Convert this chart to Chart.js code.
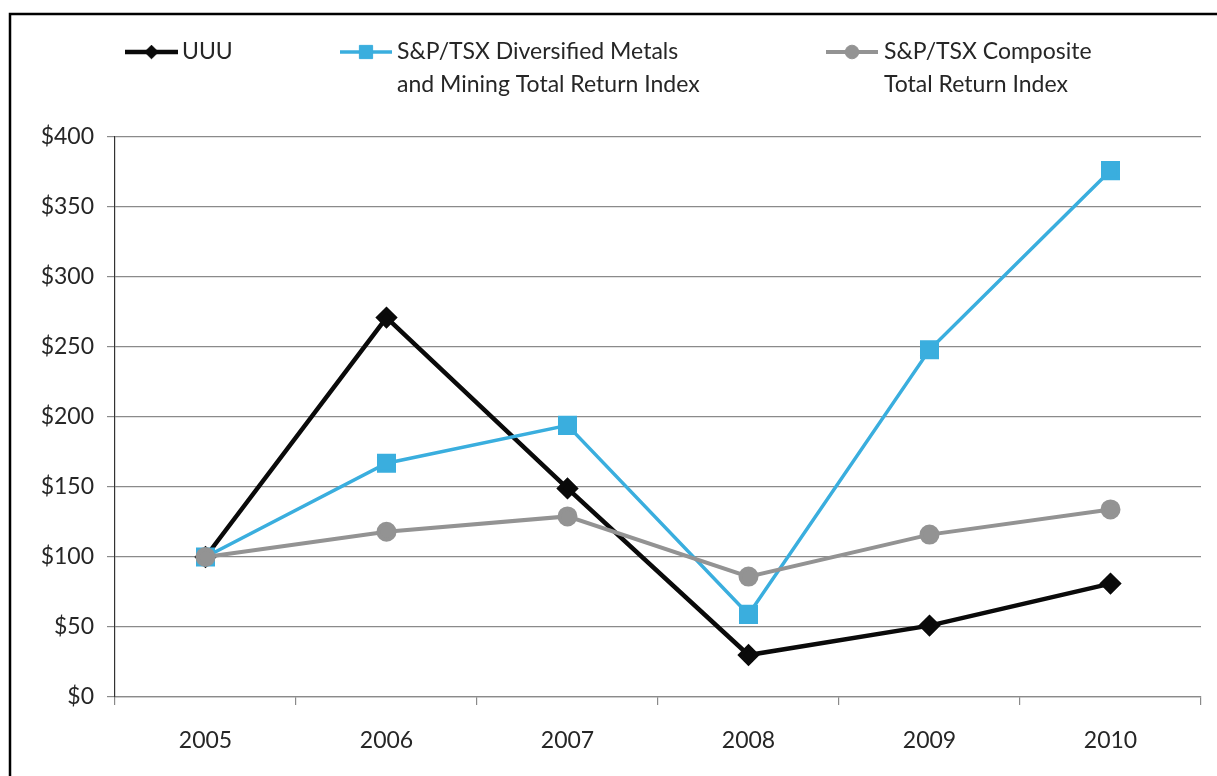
<!DOCTYPE html>
<html>
<head>
<meta charset="utf-8">
<script src="https://cdn.jsdelivr.net/npm/chart.js@4/dist/chart.umd.min.js"></script>
<style>
html,body{margin:0;padding:0;background:#fff;}
#wrap{width:1217px;height:776px;position:relative;}
</style>
</head>
<body>
<div id="wrap"><canvas id="c" width="1217" height="776"></canvas></div>
<script>
const categories = ['2005','2006','2007','2008','2009','2010'];
const uuuValues = [100, 271, 149, 30, 51, 81];
const metalsValues = [100, 167, 194, 59, 248, 376];
const compositeValues = [100, 118, 129, 86, 116, 134];
const yTicks = [0, 50, 100, 150, 200, 250, 300, 350, 400];
const seriesNames = [['UUU'], ['S&P/TSX Diversified Metals', 'and Mining Total Return Index'], ['S&P/TSX Composite', 'Total Return Index']];

const FONT = 'Lato, "Open Sans", sans-serif';

const legendPlugin = {
  id: 'customLegend',
  afterDraw(chart) {
    const ctx = chart.ctx;
    ctx.save();
    // frame
    ctx.strokeStyle = '#000';
    ctx.lineWidth = 2.5;
    ctx.beginPath();
    ctx.moveTo(10, 790);
    ctx.lineTo(10, 14);
    ctx.lineTo(1230, 14);
    ctx.stroke();
    const xs = [{l:125, r:178, t:182}, {l:340, r:392, t:397}, {l:826, r:878, t:884}];
    chart.data.datasets.forEach((ds, i) => {
      const p = xs[i];
      const y = 52;
      ctx.strokeStyle = ds.borderColor;
      ctx.lineWidth = ds.borderWidth;
      ctx.beginPath();
      ctx.moveTo(p.l, y);
      ctx.lineTo(p.r, y);
      ctx.stroke();
      ctx.fillStyle = ds.borderColor;
      ctx.strokeStyle = ds.borderColor;
      ctx.lineWidth = 1;
      Chart.helpers.drawPoint(ctx, {pointStyle: ds.pointStyle, rotation: 0, borderWidth: 1, radius: ds.pointRadius * 0.85}, (p.l + p.r) / 2, y);
      ctx.fillStyle = '#262626';
      ctx.font = '23px ' + FONT;
      ctx.textBaseline = 'middle';
      ctx.textAlign = 'left';
      seriesNames[i].forEach((line, k) => {
        ctx.fillText(line, p.t, y + k * 33);
      });
    });
    ctx.restore();
  }
};

function mk(label, data, color, style, radius, width, order) {
  return {
    label, data,
    borderColor: color, backgroundColor: color,
    pointBackgroundColor: color, pointBorderColor: color,
    pointStyle: style, pointRadius: radius, pointHoverRadius: radius,
    borderWidth: width, tension: 0, order
  };
}

new Chart(document.getElementById('c'), {
  type: 'line',
  data: {
    labels: categories,
    datasets: [
      mk(seriesNames[0].join(' '), uuuValues, '#0a0a0a', 'rectRot', 8, 4.5, 2),
      mk(seriesNames[1].join(' '), metalsValues, '#3aaede', 'rect', 11, 3.5, 1),
      mk(seriesNames[2].join(' '), compositeValues, '#939393', 'circle', 8, 4, 0)
    ]
  },
  options: {
    responsive: false,
    animation: false,
    devicePixelRatio: 1,
    layout: { padding: { left: 0, right: 16, top: 137, bottom: 0 } },
    plugins: { legend: { display: false }, tooltip: { enabled: false } },
    scales: {
      x: {
        type: 'category',
        offset: true,
        grid: { offset: true, drawOnChartArea: false, drawTicks: true, tickLength: 8, color: '#8a8a8a', lineWidth: 1.2 },
        border: { display: true, color: '#8a8a8a', width: 1.2 },
        ticks: { color: '#262626', font: { family: FONT, size: 23 }, padding: 22, maxRotation: 0 },
        afterFit(s) { s.height = 79; }
      },
      y: {
        min: 0, max: 400,
        afterBuildTicks(s) { s.ticks = yTicks.map(v => ({ value: v })); },
        grid: { color: '#8a8a8a', lineWidth: 1.2, tickLength: 8, drawTicks: true },
        border: { display: true, color: '#333', width: 1.2 },
        ticks: { color: '#262626', font: { family: FONT, size: 23 }, padding: 13, callback: v => '$' + v },
        afterFit(s) { s.width = 115; }
      }
    }
  },
  plugins: [legendPlugin]
});
</script>
</body>
</html>
